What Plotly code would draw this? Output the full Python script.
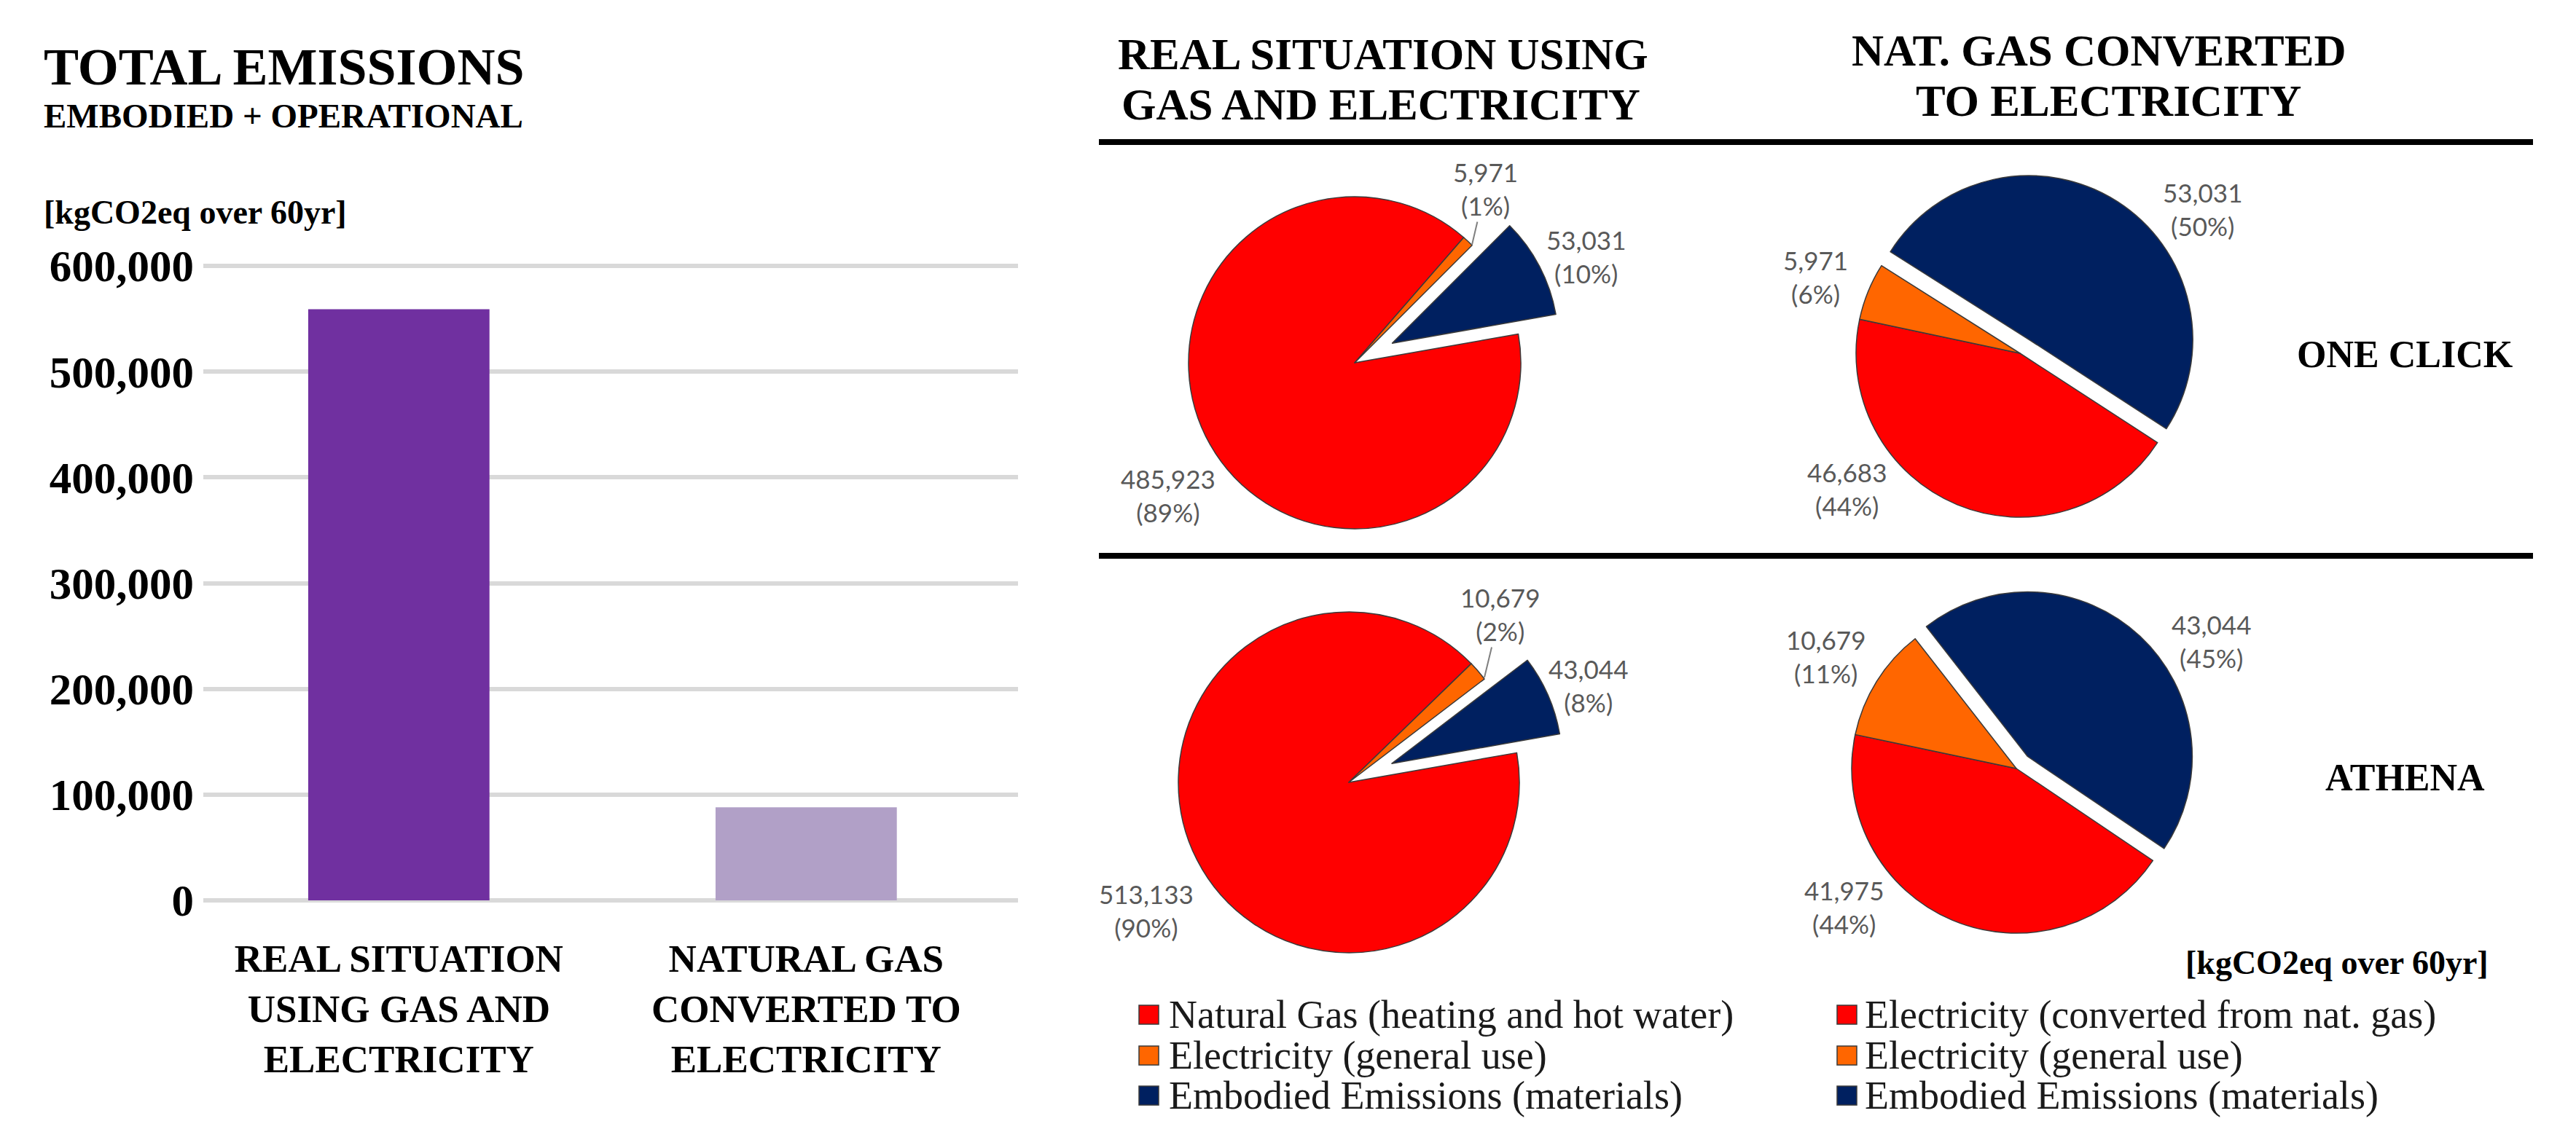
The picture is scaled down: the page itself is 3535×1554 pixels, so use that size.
import plotly.graph_objects as go

W, H = 3535, 1554

# ---------------- data ----------------
bar_categories = ["REAL SITUATION<br>USING GAS AND<br>ELECTRICITY",
                  "NATURAL GAS<br>CONVERTED TO<br>ELECTRICITY"]
bar_values = [559000, 88000]
bar_colors = ["#7030A0", "#B1A0C7"]
y_tick_values = [0, 100000, 200000, 300000, 400000, 500000, 600000]

labels_real = ["Natural Gas (heating and hot water)",
               "Electricity (general use)",
               "Embodied Emissions (materials)"]
labels_conv = ["Electricity (converted from nat. gas)",
               "Electricity (general use)",
               "Embodied Emissions (materials)"]
slice_colors = ["#FF0000", "#FF6600", "#002060"]

oneclick_real = [485923, 5971, 53031]
oneclick_conv = [46683, 5971, 53031]
athena_real = [513133, 10679, 43044]
athena_conv = [41975, 10679, 43044]

pct_oneclick_real = ["89%", "1%", "10%"]
pct_oneclick_conv = ["44%", "6%", "50%"]
pct_athena_real = ["90%", "2%", "8%"]
pct_athena_conv = ["44%", "11%", "45%"]

column_titles = [["REAL SITUATION USING", "GAS AND ELECTRICITY"],
                 ["NAT. GAS CONVERTED", "TO ELECTRICITY"]]
row_titles = ["ONE CLICK", "ATHENA"]
unit_text = "[kgCO2eq over 60yr]"

# ---------------- helpers ----------------
def px(x):
    return x / W


def py(y):
    return 1 - y / H


SERIF = "Liberation Serif"
SANS = "Lato"

fig = go.Figure()

# ---------------- bar chart ----------------
fig.add_trace(go.Bar(
    x=bar_categories, y=bar_values,
    marker=dict(color=bar_colors, line=dict(width=0)),
    showlegend=False, xaxis="x", yaxis="y",
))

# ---------------- pies ----------------
pie_specs = [
    dict(values=oneclick_real, labels=labels_real, pcts=pct_oneclick_real,
         c=(1851, 490), r=228, pull=0.255, rot=80,
         lab=[(1595, 672), (2030, 251), (2168, 344)], arrow=(2012, 328)),
    dict(values=oneclick_conv, labels=labels_conv, pcts=pct_oneclick_conv,
         c=(2764, 477), r=225, pull=0.10, rot=123,
         lab=[(2526, 663), (2483, 372), (3014, 279)], arrow=None),
    dict(values=athena_real, labels=labels_real, pcts=pct_athena_real,
         c=(1843, 1066), r=234, pull=0.275, rot=80,
         lab=[(1565, 1242), (2050, 835), (2171, 933)], arrow=(2029, 922)),
    dict(values=athena_conv, labels=labels_conv, pcts=pct_athena_conv,
         c=(2759, 1047), r=226, pull=0.10, rot=124,
         lab=[(2522, 1237), (2497, 893), (3026, 872)], arrow=None),
]

annotations = []

for spec in pie_specs:
    cx, cy = spec["c"]
    s = 2 * spec["r"] * (1 + spec["pull"])
    fig.add_trace(go.Pie(
        values=spec["values"], labels=spec["labels"],
        sort=False, direction="clockwise", rotation=spec["rot"],
        pull=[0, 0, spec["pull"]],
        marker=dict(colors=slice_colors, line=dict(color="#3A3A3A", width=1.5)),
        textinfo="none", hoverinfo="label+value+percent",
        showlegend=False,
        domain=dict(x=[px(cx - s / 2), px(cx + s / 2)],
                    y=[py(cy + s / 2), py(cy - s / 2)]),
    ))
    for i, (v, p) in enumerate(zip(spec["values"], spec["pcts"])):
        lx, ly = spec["lab"][i]
        text = f"{v:,}<br>({p})"
        if i == 1 and spec["arrow"] is not None:
            ax_, ay_ = spec["arrow"]
            annotations.append(dict(
                x=px(ax_), y=py(ay_), xref="paper", yref="paper",
                ax=lx - ax_, ay=ly - ay_, showarrow=True, arrowhead=0,
                arrowwidth=2, arrowcolor="#7F7F7F", standoff=0,
                text=text, font=dict(family=SANS, size=35, color="#595959"),
            ))
        else:
            annotations.append(dict(
                x=px(lx), y=py(ly), xref="paper", yref="paper",
                showarrow=False, text=text, xanchor="center", yanchor="middle",
                font=dict(family=SANS, size=35, color="#595959"),
            ))

# ---------------- text ----------------
def add_text(text, x, y, size, bold=True, anchor="center", family=SERIF, color="#000000"):
    annotations.append(dict(
        x=px(x), y=py(y), xref="paper", yref="paper", showarrow=False,
        text=text, xanchor=anchor, yanchor="middle",
        font=dict(family=family, size=size, color=color,
                  weight="bold" if bold else "normal"),
    ))


add_text("TOTAL EMISSIONS", 50, 84, 72, anchor="left")
add_text("EMBODIED + OPERATIONAL", 50, 151, 47, anchor="left")
add_text(unit_text, 50, 283, 46, anchor="left")

add_text(column_titles[0][0], 1890, 67, 61)
add_text(column_titles[0][1], 1887, 135, 61)
add_text(column_titles[1][0], 2872, 62, 61)
add_text(column_titles[1][1], 2885, 130, 61)

add_text(row_titles[0], 3292, 478, 52)
add_text(row_titles[1], 3292, 1059, 52)
add_text(unit_text, 3199, 1313, 46)

# ---------------- manual legends ----------------
shapes = []
legend_rows = [1385, 1441, 1496]
for lab_list, sq_x, tx in [(labels_real, 1555, 1594), (labels_conv, 2513, 2549)]:
    for i, lab in enumerate(lab_list):
        yc = legend_rows[i]
        shapes.append(dict(type="rect", xref="paper", yref="paper",
                           x0=px(sq_x), x1=px(sq_x + 27), y0=py(yc + 13), y1=py(yc - 13),
                           fillcolor=slice_colors[i], line=dict(color="#3A3A3A", width=1.5)))
        add_text(lab, tx, yc, 54, bold=False, anchor="left", color="#1A1A1A")

# separator lines
for yl in (187, 755):
    shapes.append(dict(type="line", xref="paper", yref="paper",
                       x0=px(1500), x1=px(3468), y0=py(yl), y1=py(yl),
                       line=dict(color="#000000", width=8)))

# ---------------- axes / layout ----------------
ppu = (1228 - 357) / 600000.0
y_lo, y_hi = -3000, 603000
fig.update_layout(
    width=W, height=H,
    margin=dict(l=0, r=0, t=0, b=0, autoexpand=False),
    paper_bgcolor="white", plot_bgcolor="white",
    bargap=0.555,
    xaxis=dict(domain=[px(271), px(1389)], range=[-0.48, 1.52],
               showline=False, showgrid=False, zeroline=False, ticks="",
               tickfont=dict(family=SERIF, size=53, color="#000000", weight="bold"),
               ticklabelstandoff=40, automargin=False, fixedrange=True),
    yaxis=dict(domain=[py(1228 - y_lo * ppu), py(357 - (y_hi - 600000) * ppu)],
               range=[y_lo, y_hi], tickmode="array", tickvals=y_tick_values,
               tickformat=",",
               showline=False, zeroline=False, ticks="",
               showgrid=True, gridcolor="#D9D9D9", gridwidth=6,
               tickfont=dict(family=SERIF, size=61, color="#000000", weight="bold"),
               ticklabelstandoff=12, automargin=False, fixedrange=True),
    annotations=annotations,
    shapes=shapes,
    showlegend=False,
)

fig.write_html("out.html")
